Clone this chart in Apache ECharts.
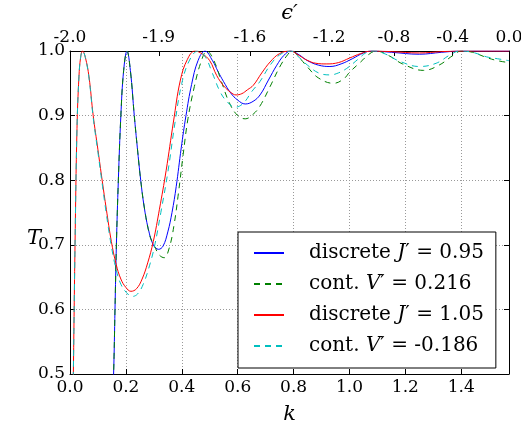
<!DOCTYPE html>
<html>
<head>
<meta charset="utf-8">
<script src="https://cdn.jsdelivr.net/npm/echarts@6/dist/echarts.min.js"></script>
<style>html,body{margin:0;padding:0;background:#fff;}#c{width:521px;height:423px;}</style>
</head>
<body>
<div id="c"></div>
<script>
// ---- data ----
const blueK = [0.130,0.145,0.156,0.161,0.166,0.173,0.182,0.192,0.204,0.216,0.230,0.241,0.253,0.265,0.280,0.298,0.317,0.333,0.350,0.365,0.380,0.398,0.415,0.435,0.458,0.483,0.510,0.530,0.549,0.575,0.600,0.627,0.655,0.680,0.710,0.740,0.765,0.790,0.820,0.850,0.890,0.930,0.970,1.010,1.050,1.080,1.150,1.250,1.330,1.400,1.571];
const blueT = [0.20,0.36,0.50,0.60,0.70,0.80,0.90,0.97,1.000,0.97,0.90,0.85,0.80,0.76,0.725,0.70,0.693,0.698,0.72,0.75,0.79,0.85,0.90,0.948,0.985,1.000,0.985,0.968,0.953,0.935,0.924,0.918,0.922,0.932,0.955,0.978,0.993,1.000,0.994,0.985,0.978,0.976,0.980,0.988,0.997,1.000,0.998,0.995,0.998,1.000,1.000];

const greenK = [0.130,0.145,0.156,0.161,0.166,0.173,0.182,0.192,0.204,0.216,0.230,0.241,0.253,0.267,0.285,0.300,0.320,0.337,0.355,0.372,0.388,0.405,0.422,0.445,0.468,0.490,0.515,0.540,0.570,0.600,0.627,0.655,0.680,0.716,0.750,0.780,0.795,0.820,0.850,0.890,0.943,0.980,1.000,1.040,1.070,1.095,1.140,1.190,1.265,1.320,1.370,1.400,1.440,1.490,1.530,1.571];
const greenT = [0.20,0.36,0.50,0.60,0.70,0.80,0.90,0.97,1.000,0.97,0.90,0.85,0.80,0.755,0.715,0.70,0.684,0.680,0.695,0.73,0.78,0.84,0.895,0.945,0.982,1.000,0.985,0.955,0.920,0.900,0.895,0.902,0.915,0.945,0.975,0.995,1.000,0.990,0.975,0.958,0.950,0.957,0.967,0.983,0.995,1.000,0.993,0.980,0.970,0.978,0.993,1.000,0.998,0.990,0.985,0.982];

const redK = [0.000,0.006,0.012,0.018,0.025,0.032,0.038,0.045,0.055,0.068,0.083,0.100,0.115,0.130,0.148,0.165,0.182,0.200,0.218,0.238,0.258,0.278,0.298,0.320,0.344,0.370,0.395,0.420,0.447,0.475,0.500,0.525,0.550,0.575,0.594,0.615,0.635,0.656,0.686,0.716,0.750,0.788,0.820,0.847,0.880,0.919,0.960,1.000,1.040,1.080,1.150,1.250,1.330,1.400,1.571];
const redT = [0.00,0.30,0.50,0.70,0.88,0.96,0.99,1.000,0.99,0.96,0.90,0.847,0.80,0.755,0.705,0.670,0.647,0.634,0.628,0.632,0.647,0.672,0.705,0.755,0.815,0.890,0.955,0.987,1.000,0.995,0.985,0.962,0.946,0.936,0.932,0.934,0.940,0.947,0.966,0.983,0.996,1.000,0.993,0.986,0.981,0.980,0.982,0.989,0.996,1.000,0.999,0.997,0.999,1.000,1.000];

const cyanK = [0.000,0.006,0.012,0.018,0.025,0.032,0.038,0.045,0.055,0.068,0.083,0.100,0.115,0.130,0.148,0.165,0.182,0.202,0.222,0.242,0.262,0.282,0.302,0.325,0.350,0.376,0.400,0.428,0.458,0.485,0.510,0.537,0.561,0.591,0.620,0.650,0.680,0.716,0.750,0.788,0.820,0.850,0.890,0.931,0.960,0.990,1.030,1.062,1.090,1.130,1.180,1.250,1.310,1.360,1.395,1.440,1.490,1.530,1.571];
const cyanT = [0.00,0.30,0.50,0.70,0.88,0.96,0.99,1.000,0.99,0.958,0.897,0.843,0.795,0.748,0.698,0.662,0.639,0.626,0.620,0.624,0.639,0.664,0.697,0.750,0.812,0.890,0.950,0.986,1.000,0.990,0.965,0.937,0.922,0.913,0.919,0.937,0.953,0.978,0.994,1.000,0.990,0.978,0.966,0.963,0.966,0.973,0.987,0.998,1.000,0.995,0.984,0.976,0.981,0.994,1.000,0.998,0.991,0.988,0.985];

const seriesNames = ['discrete J′ = 0.95','cont. V′ = 0.216','discrete J′ = 1.05','cont. V′ = -0.186'];
const legendWord = ['discrete','cont.','discrete','cont.'];
const legendVar  = ['J','V','J','V'];
const legendVal  = ['0.95','0.216','1.05','-0.186'];

const bottomTickStep = 0.2;
const yTicks = [0.5,0.6,0.7,0.8,0.9,1.0];
const topEps = [-2.0,-1.9,-1.6,-1.2,-0.8,-0.4,0.0];
const topLabels = ['-2.0','-1.9','-1.6','-1.2','-0.8','-0.4','0.0'];

// ---- chart ----
const kMax = Math.PI/2;
const topK = topEps.map(e => Math.acos(Math.max(-1, Math.min(1, -e/2))));
const zip = (a,b) => a.map((v,i)=>[v,b[i]]);
const FONT = 'DejaVu Serif';
const black = '#000';

const chart = echarts.init(document.getElementById('c'), null, {renderer:'canvas'});
const mk = (name, k, t, color, type) => ({
  name, type:'line', data: zip(k,t), symbol:'none', smooth:0.4,
  lineStyle:{color, width:1, type}, itemStyle:{color}, clip:true, animation:false
});

chart.setOption({
  animation:false,
  backgroundColor:'#fff',
  grid:{left:70, top:51, width:439, height:323, show:false, containLabel:false, outerBoundsMode:'none'},
  xAxis:[{
    type:'value', position:'bottom', min:0, max:kMax, interval:bottomTickStep,
    axisLine:{show:true, onZero:false, lineStyle:{color:black, width:1}},
    axisTick:{show:true, inside:true, length:5, lineStyle:{color:black}},
    axisLabel:{show:true, showMaxLabel:false, margin:5, color:black, fontFamily:FONT, fontSize:17,
      formatter:v=>v.toFixed(1)},
    splitLine:{show:true, lineStyle:{color:'#999', type:[1,2], width:1}},
    name:'k', nameLocation:'middle', nameGap:30,
    nameTextStyle:{fontFamily:FONT, fontStyle:'italic', fontSize:21, color:black}
  },{
    type:'value', position:'top', min:0, max:kMax,
    axisLine:{show:true, onZero:false, lineStyle:{color:black, width:1}},
    axisTick:{show:true, inside:true, length:5, customValues:topK, lineStyle:{color:black}},
    axisLabel:{show:true, customValues:topK, margin:5, color:black, fontFamily:FONT, fontSize:17,
      formatter:v=>{let b=0,d=1e9;topK.forEach((kk,i)=>{const dd=Math.abs(kk-v);if(dd<d){d=dd;b=i;}});return topLabels[b];}},
    splitLine:{show:false},
    name:'ϵ′', nameLocation:'middle', nameGap:25,
    nameTextStyle:{fontFamily:FONT, fontStyle:'italic', fontSize:21, color:black}
  }],
  yAxis:[{
    type:'value', position:'left', min:yTicks[0], max:yTicks[yTicks.length-1], interval:0.1,
    axisLine:{show:true, onZero:false, lineStyle:{color:black, width:1}},
    axisTick:{show:true, inside:true, length:5, lineStyle:{color:black}},
    axisLabel:{show:true, margin:5, color:black, fontFamily:FONT, fontSize:17, formatter:v=>v.toFixed(1)},
    splitLine:{show:true, lineStyle:{color:'#999', type:[1,2], width:1}}
  },{
    type:'value', position:'right', min:yTicks[0], max:yTicks[yTicks.length-1], interval:0.1,
    axisLine:{show:true, onZero:false, lineStyle:{color:black, width:1}},
    axisTick:{show:true, inside:true, length:5, lineStyle:{color:black}},
    axisLabel:{show:false}, splitLine:{show:false}
  }],
  graphic:[{
    type:'text', left:27, top:228, silent:true,
    style:{text:'T', fontFamily:FONT, fontStyle:'italic', fontSize:21, fill:black}
  }],
  legend:{
    orient:'vertical', left:238, top:232,
    data:seriesNames,
    itemWidth:30, itemHeight:12, itemGap:9,
    padding:[10,12,11,15],
    borderColor:'#000', borderWidth:1, backgroundColor:'#fff',
    itemStyle:{opacity:0},
    textStyle:{fontFamily:FONT, fontSize:20, lineHeight:22, color:black, padding:[0,0,0,20],
      rich:{i:{fontFamily:FONT, fontStyle:'italic', fontSize:20, lineHeight:22, color:black}}},
    formatter:name=>{const i=seriesNames.indexOf(name);return legendWord[i]+' {i|'+legendVar[i]+'}′ = '+legendVal[i];}
  },
  series:[
    mk(seriesNames[0], blueK, blueT, '#0000ff', 'solid'),
    mk(seriesNames[1], greenK, greenT, '#008000', [6,5]),
    mk(seriesNames[2], redK, redT, '#ff0000', 'solid'),
    mk(seriesNames[3], cyanK, cyanT, '#00bfbf', [6,5])
  ]
});
</script>
</body>
</html>
